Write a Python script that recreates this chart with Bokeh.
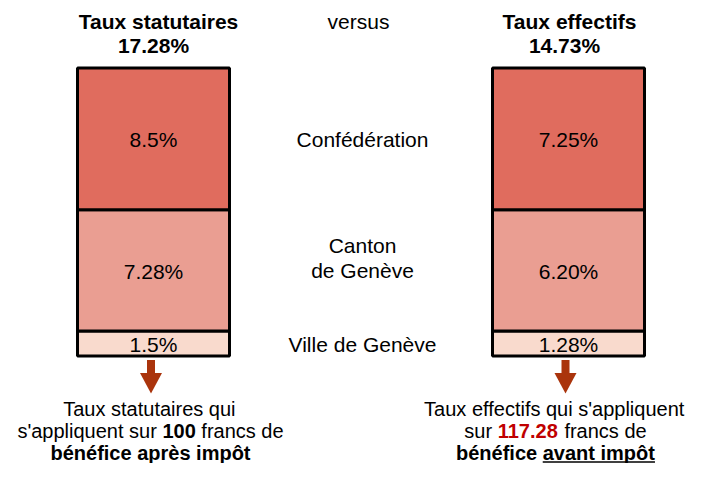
from bokeh.plotting import figure
from bokeh.models import Range1d
from bokeh.embed import file_html
from bokeh.resources import INLINE
from bokeh.core.properties import value

# ---------------- data ----------------
levels = ["Ville de Genève", "Canton\nde Genève", "Confédération"]
statutory = [1.5, 7.28, 8.5]
statutory_labels = ["1.5%", "7.28%", "8.5%"]
effective = [1.28, 6.20, 7.25]
effective_labels = ["1.28%", "6.20%", "7.25%"]
statutory_title = "Taux statutaires"
statutory_total_label = "17.28%"
effective_title = "Taux effectifs"
effective_total_label = "14.73%"
middle_title = "versus"
profit_after_tax = 100
profit_before_tax = 117.28
segment_colors = ["#F9DACD", "#EA9E92", "#E06C5E"]
arrow_color = "#AA340C"
highlight_color = "#C00000"

# ---------------- layout ----------------
W, H = 689, 463
FONT = "Liberation Sans"
FS = 21
FS_NOTE = 20
BASE_PX = 355.5
BAR_PX = 288
K = BAR_PX / sum(statutory)
BAR_W = 152
LEFT_CX, RIGHT_CX, MID_CX = 153, 568, 362
LEFT_NOTE_CX, RIGHT_NOTE_CX = 150, 555
LEFT_ARROW_CX, RIGHT_ARROW_CX = 150.5, 565

REG = {' ': 278, "'": 191, '.': 278, '%': 889, 'C': 722, 'G': 778, 'T': 611, 'V': 667,
       'a': 556, 'b': 556, 'c': 500, 'd': 556, 'e': 556, 'f': 278, 'g': 556, 'h': 556,
       'i': 222, 'l': 222, 'm': 833, 'n': 556, 'o': 556, 'p': 556, 'q': 556, 'r': 333,
       's': 500, 't': 278, 'u': 556, 'v': 500, 'x': 500, 'é': 556, 'è': 556, 'ô': 556}
BOLD = {' ': 278, '.': 278, '%': 889, 'T': 611, 'a': 556, 'b': 611, 'c': 556, 'e': 556,
        'é': 556, 'è': 556, 'f': 333, 'i': 278, 'm': 889, 'n': 611, 'o': 611, 'ô': 611,
        'p': 611, 'r': 389, 's': 556, 't': 333, 'u': 611, 'v': 556, 'x': 556}


def text_width(s, bold, fs):
    table = BOLD if bold else REG
    return sum(table.get(ch, 556) for ch in s) * fs / 1000


p = figure(width=W, height=H, output_backend="svg", toolbar_location=None,
           x_range=Range1d(0, W), y_range=Range1d(-(H - BASE_PX) / K, BASE_PX / K),
           x_axis_location=None, y_axis_location=None, min_border=0)
p.grid.visible = False
p.outline_line_color = None
p.background_fill_color = "white"
p.border_fill_color = "white"

common = dict(text_font=value(FONT), text_baseline="middle")

display_effective = [v * profit_before_tax / profit_after_tax for v in effective]

mids_left = []
for cx, acx, vals, labels in [(LEFT_CX, LEFT_ARROW_CX, statutory, statutory_labels),
                              (RIGHT_CX, RIGHT_ARROW_CX, display_effective, effective_labels)]:
    bottoms, tops, mids = [], [], []
    acc = 0
    for v in vals:
        bottoms.append(acc)
        tops.append(acc + v)
        mids.append(acc + v / 2)
        acc += v
    if cx == LEFT_CX:
        mids_left = mids
    p.vbar(x=[cx] * len(vals), bottom=bottoms, top=tops, width=BAR_W,
           fill_color=segment_colors, line_color="black", line_width=3)
    p.text(x=[cx] * len(vals), y=mids, text=labels, text_align="center",
           y_offset=1, text_font_size=f"{FS}px", text_color="black", **common)
    # arrow below the bar
    p.quad(left=[acx - 4], right=[acx + 4], top=[-4 / K], bottom=[-17 / K],
           fill_color=arrow_color, line_color=None)
    p.patch(x=[acx - 11, acx + 11, acx],
            y=[-17 / K, -17 / K, -37.5 / K],
            fill_color=arrow_color, line_color=None)

top_val = sum(statutory)
title_kw = dict(text_font_size=f"{FS}px", text_color="black", text_align="center", **common)
p.text(x=[LEFT_CX + 5], y=[top_val], text=[statutory_title], y_offset=-47,
       text_font_style="bold", **title_kw)
p.text(x=[LEFT_CX], y=[top_val], text=[statutory_total_label], y_offset=-22.5,
       text_font_style="bold", **title_kw)
p.text(x=[RIGHT_CX + 1], y=[top_val], text=[effective_title], y_offset=-47,
       text_font_style="bold", **title_kw)
p.text(x=[RIGHT_CX - 4], y=[top_val], text=[effective_total_label], y_offset=-22.5,
       text_font_style="bold", **title_kw)
p.text(x=[MID_CX - 4], y=[top_val], text=[middle_title], y_offset=-47, **title_kw)

# middle level labels
for lvl, m in zip(levels, mids_left):
    lines = lvl.split("\n")
    n = len(lines)
    for j, line in enumerate(lines):
        off = 0.5 - 25 * (n - 1 - j)
        p.text(x=[MID_CX], y=[m], text=[line], y_offset=off, **title_kw)


def draw_rich(cx, dy_px, pieces):
    total = sum(text_width(t, b, FS_NOTE) for t, b, c, u in pieces)
    x = cx - total / 2
    for t, b, c, u in pieces:
        w = text_width(t, b, FS_NOTE)
        stripped = t.lstrip(" ")
        lead = text_width(t[:len(t) - len(stripped)], b, FS_NOTE)
        core = stripped.rstrip(" ")
        p.text(x=[x + lead], y=[0], text=[core], text_align="left", y_offset=dy_px,
               text_font_size=f"{FS_NOTE}px", text_color=c,
               text_font_style="bold" if b else "normal", **common)
        if u:
            yy = -(dy_px + 9.5) / K
            p.segment(x0=[x + lead], x1=[x + lead + text_width(core, b, FS_NOTE)],
                      y0=[yy], y1=[yy], line_width=1.5, line_color=c)
        x += w


after_str = f"{profit_after_tax:g}"
before_str = f"{profit_before_tax:g}"
LINE_DY = [53, 75, 96.5]

left_lines = [
    [("Taux statutaires qui", False, "black", False)],
    [("s'appliquent sur ", False, "black", False), (after_str, True, "black", False),
     (" francs de", False, "black", False)],
    [("bénéfice après impôt", True, "black", False)],
]
right_lines = [
    [("Taux effectifs qui s'appliquent", False, "black", False)],
    [("sur ", False, "black", False), (before_str, True, highlight_color, False),
     (" francs de", False, "black", False)],
    [("bénéfice ", True, "black", False), ("avant impôt", True, "black", True)],
]
for dy, line in zip(LINE_DY, left_lines):
    draw_rich(LEFT_NOTE_CX, dy, line)
for dy, line in zip(LINE_DY, right_lines):
    draw_rich(RIGHT_NOTE_CX, dy, line)

open("out.html", "w").write(file_html(p, INLINE))
